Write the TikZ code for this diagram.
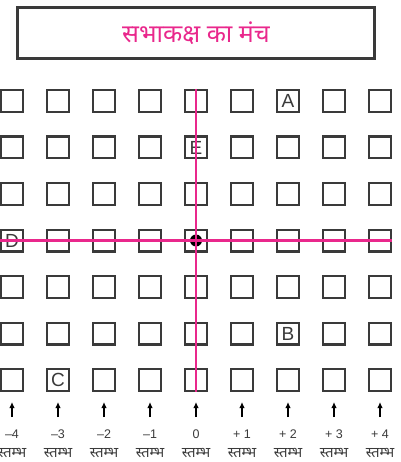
\documentclass[tikz,border=0pt]{standalone}
\usepackage{fontspec}
\setmainfont{Liberation Sans}
\newfontfamily\hindi[Script=Devanagari]{Noto Sans}
\usetikzlibrary{arrows.meta}
\definecolor{stagepink}{RGB}{233,40,140}
\definecolor{boxdark}{RGB}{58,58,58}

\begin{document}
\begin{tikzpicture}[x=1pt,y=-1pt,
  seat/.style={draw=boxdark,line width=2.4pt,minimum size=21.6pt,inner sep=0pt},
  seatletter/.style={text=boxdark,inner sep=0pt,font=\fontsize{19}{19}\selectfont},
  axisline/.style={stagepink,line width=2.2pt},
  colarrow/.style={-{Latex[length=6pt,width=5.5pt]},line width=1.8pt,black},
  colnum/.style={text=boxdark,anchor=base,inner sep=0pt,font=\fontsize{12.5}{13}\selectfont},
  colword/.style={text=boxdark,anchor=base,inner sep=0pt,font=\hindi\fontsize{14.5}{15}\selectfont}]
\useasboundingbox (0,0) rectangle (400,462);

% ===== STAGE (top) =====
\node[draw=boxdark,line width=2.6pt,minimum width=357.4pt,minimum height=51.4pt,
  text=stagepink,font=\hindi\fontsize{25}{25}\selectfont] (stage) at (196,33) {सभाकक्ष का मंच};

% ===== SEATS (9 columns x 7 rows) =====
\foreach \c in {1,...,9}{
  \foreach \r in {1,...,7}{
    \node[seat] (s-\c-\r) at ({12+(\c-1)*46},{101+(\r-1)*46.5}) {};
  }
}
% lettered seats
\node[seatletter] (A) at (s-7-1) {A};
\node[seatletter] (E) at (s-5-2) {E};
\node[seatletter] (D) at (s-1-4) {D};
\node[seatletter] (B) at (s-7-6) {B};
\node[seatletter] (C) at (s-2-7) {C};

% centre seat and axes
\node[circle,fill=black,minimum size=12pt,inner sep=0pt] (origin) at (s-5-4) {};
\draw[axisline] (s-5-1.north) -- (s-5-7.south);
\draw[axisline] (s-1-4.west) -- (s-9-4.east);

% ===== COLUMN LABELS =====
\foreach \c/\lab in {1/{–4},2/{–3},3/{–2},4/{–1},5/{0},6/{+ 1},7/{+ 2},8/{+ 3},9/{+ 4}}{
  \node[colnum] (n-\c) at ({12+(\c-1)*46},438) {\lab};
  \node[colword] (w-\c) at ({12+(\c-1)*46},457) {स्तम्भ};
  \draw[colarrow] ([yshift=-25pt]s-\c-7.south) -- ([yshift=-10pt]s-\c-7.south);
}

\end{tikzpicture}
\end{document}
